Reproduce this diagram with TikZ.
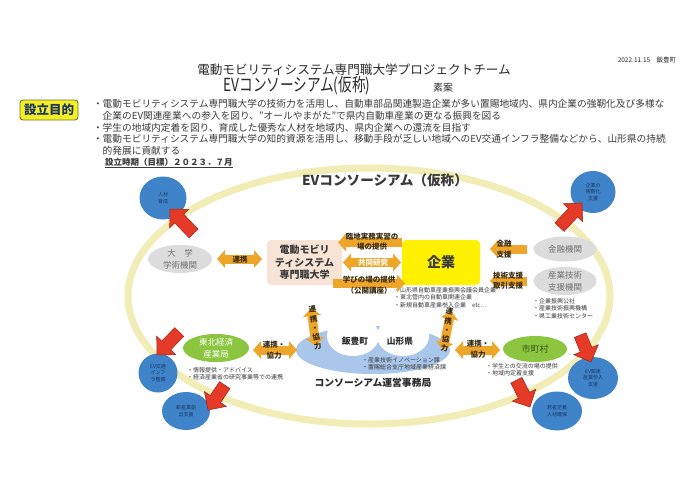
\documentclass[tikz,border=0pt]{standalone}
\usepackage{fontspec}
\usepackage{graphicx}
\setmainfont{Noto Sans CJK JP}
\usetikzlibrary{shapes.geometric,shapes.arrows,arrows.meta}
\newcommand\myfs[1]{\fontsize{#1}{#1}\selectfont}
\definecolor{ringc}{HTML}{F2EDB6}
\definecolor{txtc}{HTML}{2A2A2A}
\definecolor{bodyc}{HTML}{3A3A3A}
\definecolor{bluecirc}{HTML}{3F84C8}
\definecolor{navyc}{HTML}{1C3566}
\definecolor{redc}{HTML}{E53A27}
\definecolor{redd}{HTML}{9A2316}
\definecolor{orc}{HTML}{EEA62A}
\definecolor{otxtc}{HTML}{3A2A10}
\definecolor{grayc}{HTML}{DCDCDC}
\definecolor{graytc}{HTML}{707070}
\definecolor{greenc}{HTML}{8CC540}
\definecolor{dgreen}{HTML}{2F5F1A}
\definecolor{peach}{HTML}{F7E4D6}
\definecolor{kyellow}{HTML}{FFF100}
\definecolor{boxyellow}{HTML}{F4EE22}
\definecolor{boxedge}{HTML}{6B7A2A}
\definecolor{cloudc}{HTML}{A9C7EB}
\begin{document}
\begin{tikzpicture}[x=1pt,y=-1pt,
  every node/.style={inner sep=0pt, outer sep=0pt, text=txtc},
  blt/.style={anchor=west, font=\myfs{9.7}, text=bodyc},
  bluec/.style={ellipse, fill=bluecirc, text=navyc, font=\fontsize{5}{6.5}\selectfont, align=center},
  redarr/.style={single arrow, fill=redc, draw=redd, line width=0.5pt, text height=6pt, text depth=6pt, text width=1pt, single arrow head extend=7pt, anchor=tip},
  oarr/.style={draw=orc, line width=9pt, >={Triangle[length=8pt,width=18pt,line width=0pt]}},
  otxt/.style={font=\bfseries\fontsize{7.5}{10.5}\selectfont, text=otxtc, align=center},
  grayel/.style={ellipse, fill=grayc, text=graytc, font=\fontsize{8.5}{12}\selectfont, align=center},
  greenel/.style={ellipse, fill=greenc, font=\fontsize{8.5}{12}\selectfont, align=center},
  small/.style={font=\fontsize{6}{7.6}\selectfont, align=left, anchor=north west, text=bodyc}
]
\useasboundingbox (0,0) rectangle (700,495);
\fill[white] (0,0) rectangle (700,495);

% header
\node[font=\myfs{6.5}] (date) at (647,60) {2022.11.15　飯豊町};
\node[font=\myfs{12.6}] (t1) at (354,70) {電動モビリティシステム専門職大学プロジェクトチーム};
\node[font=\myfs{18}] (t2) at (297,86) {\scalebox{0.76}[1]{EVコンソーシアム(仮称)}};
\node[font=\myfs{10}] (t3) at (443,88) {素案};
\node[draw=boxedge, line width=0.9pt, fill=boxyellow, rounded corners=3pt, minimum width=58pt, minimum height=20pt, font=\bfseries\myfs{12.5}, text=navyc] (mok) at (49,110) {設立目的};

\node[blt] (b1) at (93,104) {・電動モビリティシステム専門職大学の技術力を活用し、自動車部品関連製造企業が多い置賜地域内、県内企業の強靭化及び多様な};
\node[blt] (b2) at (93,116) {　企業のEV関連産業への参入を図り、"オールやまがた"で県内自動車産業の更なる振興を図る};
\node[blt] (b3) at (93,127.5) {・学生の地域内定着を図り、育成した優秀な人材を地域内、県内企業への還流を目指す};
\node[blt] (b4) at (93,139) {・電動モビリティシステム専門職大学の知的資源を活用し、移動手段が乏しい地域へのEV交通インフラ整備などから、山形県の持続};
\node[blt] (b5) at (93,150.5) {　的発展に貢献する};
\node[anchor=west, font=\bfseries\myfs{8.5}, text=bodyc] (b6) at (105,163) {\underline{設立時期（目標）２０２３．７月}};

% ring
\draw[ringc, line width=7pt] (369,296) ellipse [x radius=241pt, y radius=128pt];
\node[font=\bfseries\myfs{13.6}, text=bodyc] (head) at (385,180) {EVコンソーシアム（仮称）};

% blue circles
\node[bluec, minimum width=47pt, minimum height=43pt] (c1) at (163,198) {人材\\育成};
\node[bluec, minimum width=45pt, minimum height=42pt] (c2) at (593,192) {企業の\\強靭化\\支援};
\node[bluec, minimum width=39pt, minimum height=39pt] (c3) at (158,373) {EV交通\\インフ\\ラ整備};
\node[bluec, minimum width=48pt, minimum height=38pt] (c4) at (186,411) {新産業創\\出支援};
\node[bluec, minimum width=50pt, minimum height=42pt] (c5) at (593,378) {EV関連\\産業参入\\支援};
\node[bluec, minimum width=50pt, minimum height=39pt] (c6) at (557,411) {若者定着\\人材確保};

% red arrows
\node[redarr, minimum height=34pt, rotate=134] (r1) at (170,209) {};
\node[redarr, minimum height=33pt, rotate=47] (r2) at (582,203) {};
\node[redarr, minimum height=32pt, rotate=-134] (r3) at (157,355) {};
\node[redarr, minimum height=30pt, rotate=-124] (r4) at (208,410) {};
\node[redarr, minimum height=29pt, rotate=-68] (r5) at (591,362) {};
\node[redarr, minimum height=30pt, rotate=-63] (r6) at (530,407) {};

% main nodes
\node[grayel, minimum width=64pt, minimum height=25pt] (daigaku) at (180,259) {大　学\\学術機関};
\node[fill=peach, rounded corners=4pt, minimum width=75pt, minimum height=45pt, align=center, font=\bfseries\fontsize{10}{12.5}\selectfont, text=bodyc] (denki) at (304.5,262.5) {電動モビリ\\ティシステム\\専門職大学};
\node[fill=kyellow, rounded corners=4pt, minimum width=78pt, minimum height=45pt, font=\bfseries\myfs{14}, text=bodyc] (kigyo) at (441,262.5) {企業};
\node[grayel, minimum width=63pt, minimum height=25pt] (kinyu) at (565,249) {金融機関};
\node[grayel, minimum width=63pt, minimum height=28pt] (sangyo) at (565,281) {産業技術\\支援機関};
\node[greenel, minimum width=66pt, minimum height=28pt, text=white] (tohoku) at (216,348) {東北経済\\産業局};
\node[greenel, minimum width=64pt, minimum height=26pt, text=dgreen, font=\myfs{9}] (shicho) at (535,349) {市町村};

\node[small] (klist) at (394,287) {・山形県自動車産業振興会議会員企業\\・東北管内の自動車関連企業\\・新規自動車産業参入企業　etc…};
\node[small] (slist) at (533,298) {・企業振興公社\\・産業技術振興機構\\・県工業技術センター};
\node[small] (tlist) at (187,367) {・情報提供・アドバイス\\・経済産業省の研究事業等での連携};
\node[small] (mlist) at (486,363) {・学生との交流の場の提供\\・地域内定着支援};

% cloud
\node[ellipse, fill=cloudc, minimum width=154pt, minimum height=48pt] (cloud) at (373,350) {};
\fill[white] (353,336) ellipse [x radius=26pt, y radius=20pt];
\fill[white] (403,336) ellipse [x radius=26pt, y radius=20pt];
\node[font=\bfseries\myfs{8.7}] (iide) at (355,341) {飯豊町};
\node[font=\bfseries\myfs{8.7}] (ken) at (400,341) {山形県};
\node[small] (clist) at (362,357) {・産業技術イノベーション課\\・置賜総合支庁地域産業経済課};
\node[font=\bfseries\myfs{9.8}] (office) at (373,383) {コンソーシアム運営事務局};

% orange arrows
\coordinate (kx) at ([xshift=10pt]kigyo.east);
\coordinate (tx) at ([xshift=4pt]tohoku.east);
\draw[oarr, <->] ([xshift=5pt]daigaku.east) -- ([xshift=-5pt]denki.west |- daigaku.east);
\draw[oarr, <-] ([xshift=-4pt,yshift=20pt]denki.east) -- ([yshift=20pt]kigyo.west);
\draw[oarr, <->] ([xshift=1pt]denki.east) -- ([xshift=-1pt]kigyo.west);
\draw[oarr, ->] ([xshift=-9pt,yshift=-21pt]denki.east) -- ([xshift=3pt,yshift=-21pt]kigyo.west);
\draw[oarr, ->] ([xshift=-7pt]kinyu.west) -- (kx |- kinyu.west);
\draw[oarr, ->] ([xshift=-7pt]sangyo.west) -- (kx |- sangyo.west);
\draw[oarr, <->] (tx |- cloud.west) -- ([xshift=1pt]cloud.west);
\draw[oarr, <->] ([xshift=5pt]cloud.east) -- ([xshift=-3pt]shicho.west |- cloud.east);
\coordinate (va1) at (316,346);
\coordinate (vb1) at (311,308);
\coordinate (va2) at (443,350);
\coordinate (vb2) at (451,311);
\draw[oarr, <->] (va1) -- (vb1);
\draw[oarr, <->] (va2) -- (vb2);

% orange arrow labels
\node[otxt] (lre) at (240,259.5) {連携};
\node[otxt] (lrin) at (372,241.5) {臨地実務実習の\\場の提供};
\node[otxt, text=white] (lkyo) at (373,263) {共同研究};
\node[otxt] (lmana) at (369,285) {学びの場の提供\\（公開講座）};
\node[otxt] (lkin) at (504,249) {金融\\支援};
\node[otxt] (lgi) at (508,280.5) {技術支援\\取引支援};
\node[otxt] (lh1) at (274,350) {連携・\\協力};
\node[otxt] (lh2) at (478,349) {連携・\\協力};
\node[otxt, font=\bfseries\fontsize{7.5}{9.3}\selectfont, rotate=8] (lv1) at (315,328) {連\\携\\・\\協\\力};
\node[otxt, font=\bfseries\fontsize{7.5}{9.3}\selectfont, rotate=-8] (lv2) at (447,330) {連\\携\\・\\協\\力};
\end{tikzpicture}
\end{document}
